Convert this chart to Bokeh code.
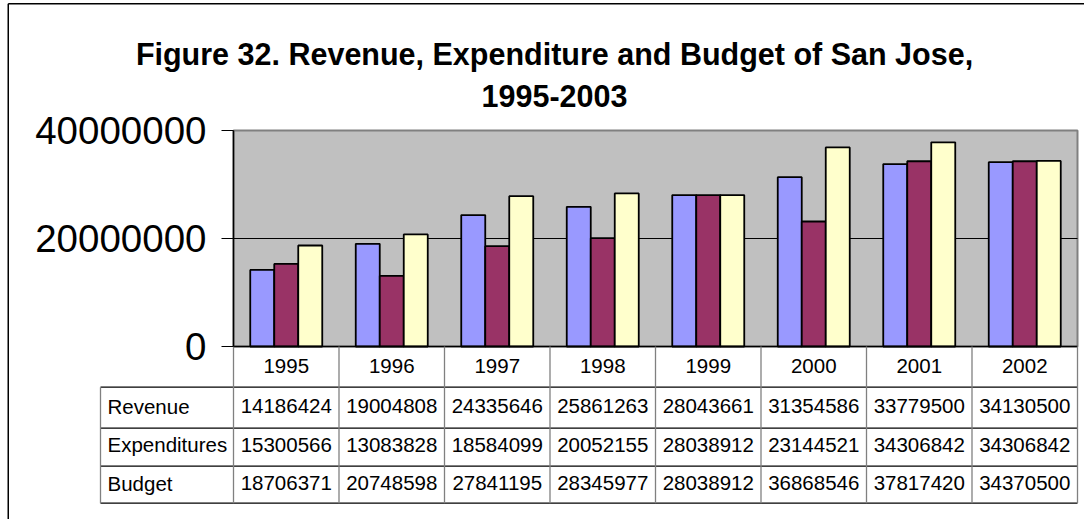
from bokeh.plotting import figure
from bokeh.models import (ColumnDataSource, Range1d, FixedTicker, LinearAxis,
                          NumeralTickFormatter)
from bokeh.core.properties import value
from bokeh.transform import dodge
from bokeh.embed import file_html
from bokeh.resources import INLINE

# ---------------- data ----------------
years = ["1995", "1996", "1997", "1998", "1999", "2000", "2001", "2002"]
revenue = [14186424, 19004808, 24335646, 25861263, 28043661, 31354586, 33779500, 34130500]
expenditures = [15300566, 13083828, 18584099, 20052155, 28038912, 23144521, 34306842, 34306842]
budget = [18706371, 20748598, 27841195, 28345977, 28038912, 36868546, 37817420, 34370500]
series_names = ["Revenue", "Expenditures", "Budget"]
series_values = [revenue, expenditures, budget]
series_colors = ["#9999FF", "#993366", "#FFFFCC"]
y_ticks = [0, 20000000, 40000000]
title_lines = ["Figure 32. Revenue, Expenditure and Budget of San Jose,", "1995-2003"]

# ---------------- layout (page pixels) ----------------
OX, OY = 0, 0                 # figure origin on the page (Bokeh page has no body margin)
W, H = 1084, 519
PL, PT, PR, PB = 233, 130, 1077, 346   # plot area on page
FONT = "Liberation Sans"
ncol = len(years)
colw = (PR - PL) / ncol
ymax = y_ticks[-1]

def px(xpage):                # page x -> column units (category i spans [i, i+1])
    return (xpage - PL) / colw

def vy(ypage):                # page y -> value units
    return (PB - ypage) * ymax / (PB - PT)

p = figure(width=W, height=H, x_range=Range1d(px(OX), px(OX + W)),
           y_range=Range1d(vy(OY + H), vy(OY)), output_backend="svg",
           toolbar_location=None, title=None,
           x_axis_location=None, y_axis_location=None)
p.min_border_left = p.min_border_right = p.min_border_top = p.min_border_bottom = 0
p.outline_line_color = None
p.background_fill_color = "white"
p.border_fill_color = "white"
p.grid.visible = False

# plot area background + horizontal grid lines
p.quad(left=0, right=ncol, bottom=0, top=ymax, fill_color="#C0C0C0",
       line_color="#808080", line_width=2)
grid_y = y_ticks[1:-1]
p.segment(x0=[0] * len(grid_y), x1=[ncol] * len(grid_y), y0=grid_y, y1=grid_y,
          line_color="black", line_width=1)

# bars
xc = [i + 0.5 for i in range(ncol)]
bw = 0.2275
for i, (name, vals, col) in enumerate(zip(series_names, series_values, series_colors)):
    src = ColumnDataSource(dict(xc=xc, val=vals))
    p.vbar(x=dodge("xc", (i - 1) * bw), top="val", width=bw, source=src,
           fill_color=col, line_color="black", line_width=1.8)

# y axis, placed at the left edge of the plot area
yax = LinearAxis(fixed_location=0, bounds=(0, ymax), ticker=FixedTicker(ticks=y_ticks),
                 formatter=NumeralTickFormatter(format="0"))
yax.major_label_text_font = FONT
yax.major_label_text_font_size = "38.5px"
yax.major_label_text_color = "black"
yax.axis_line_color = "black"
yax.axis_line_width = 1.5
yax.major_tick_line_color = "black"
yax.major_tick_line_width = 1.2
yax.major_tick_out = 12
yax.major_tick_in = 0
yax.minor_tick_line_color = None
yax.major_label_standoff = 15
p.add_layout(yax, "left")

# ---------------- data table ----------------
row_lines = [386.7, 427.7, 465.7, 502.7]   # bottom edges of year row and data rows
year_mid = 365.0
row_mid = [405.8, 444.2, 482.5]
tbl_left = 100

# horizontal rules: x axis line, then row separators
p.segment(x0=[0], x1=[ncol], y0=[0], y1=[0], line_color="black", line_width=1.5)
p.segment(x0=[px(tbl_left)] * len(row_lines), x1=[ncol] * len(row_lines),
          y0=[vy(v) for v in row_lines], y1=[vy(v) for v in row_lines],
          line_color="black", line_width=1.3)
# vertical rules
vx = list(range(ncol + 1)) + [px(tbl_left)]
vtop = [0] * (ncol + 1) + [vy(row_lines[0])]
p.segment(x0=vx, x1=vx, y0=vtop, y1=[vy(row_lines[-1])] * len(vx),
          line_color="#808080", line_width=1.3)

txt = dict(text_font=value(FONT), text_font_size=value("20.5px"), text_color="black",
           text_baseline="middle")
p.text(x=xc, y=[vy(year_mid)] * ncol, text=years, text_align="center", **txt)
cx, cy, ct = [], [], []
for r, vals in enumerate(series_values):
    for i, v in enumerate(vals):
        cx.append(xc[i]); cy.append(vy(row_mid[r])); ct.append(str(v))
p.text(x=cx, y=cy, text=ct, text_align="center", **txt)
p.text(x=[px(107)] * len(series_names), y=[vy(b) for b in row_mid], text=series_names,
       text_align="left", **txt)

# ---------------- title ----------------
p.text(x=[px(554)] * 2, y=[vy(53), vy(95)], text=title_lines, text_align="center",
       text_baseline="middle", text_font=value(FONT), text_font_size=value("30.5px"),
       text_font_style="bold", text_color="black")

# ---------------- outer chart border ----------------
bx = px(7.75)
by = vy(3.25)
p.segment(x0=[bx, bx], y0=[by, by], x1=[bx, px(W + 10)], y1=[vy(H + 10), by],
          line_color="black", line_width=1.5)

open("out.html", "w").write(file_html(p, INLINE))
